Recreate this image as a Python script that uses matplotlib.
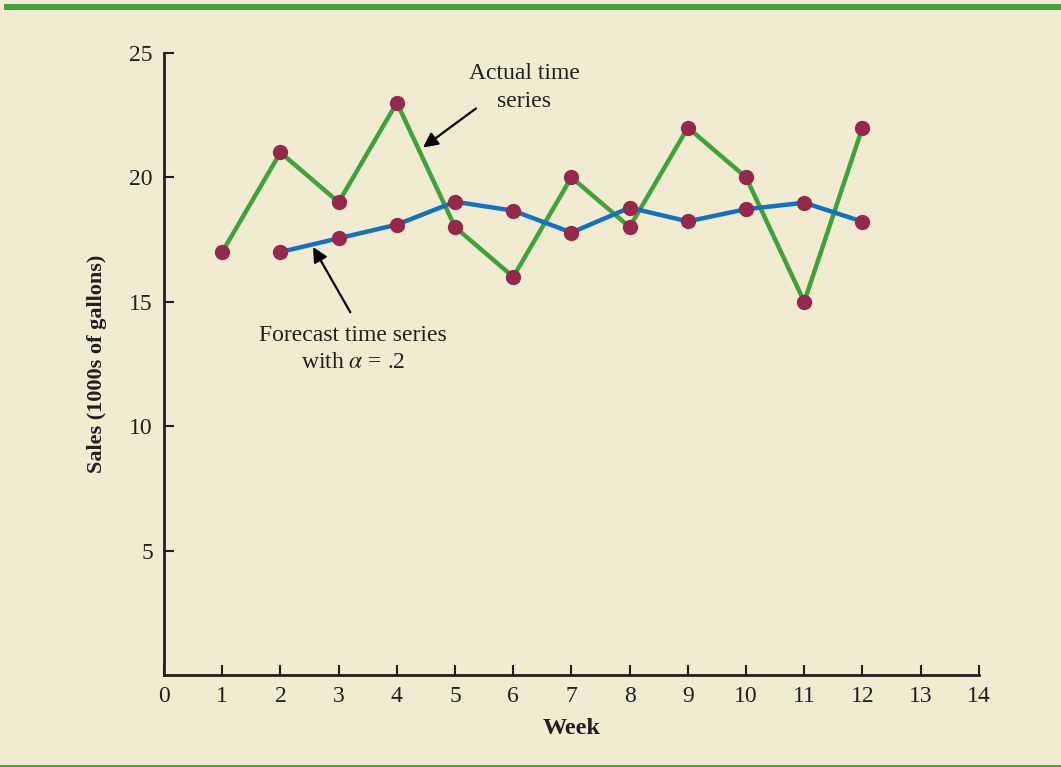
import numpy as np
import matplotlib.pyplot as plt

# weekly sales data (1000s of gallons)
weeks = [1, 2, 3, 4, 5, 6, 7, 8, 9, 10, 11, 12]
actual = [17, 21, 19, 23, 18, 16, 20, 18, 22, 20, 15, 22]
forecast_weeks = [2, 3, 4, 5, 6, 7, 8, 9, 10, 11, 12]
forecast = [17.0, 17.55, 18.1, 19.02, 18.66, 17.78, 18.78, 18.23, 18.72, 18.98, 18.22]

x_ticks = list(range(0, 15))
y_ticks = [5, 10, 15, 20, 25]

bg = '#f1ebd1'
dark = '#231f20'
green = '#3fa23b'
blue = '#1570bd'
dot = '#95284b'

plt.rcParams['font.family'] = ['Liberation Serif', 'DejaVu Serif']
plt.rcParams['mathtext.fontset'] = 'stix'

fig = plt.figure(figsize=(10.61, 7.67), dpi=100, facecolor=bg)
ax = fig.add_axes([0.1546, 0.1199, 0.768, 0.8111])
ax.set_facecolor(bg)

# top and bottom green rules
fig.add_artist(plt.Rectangle((0.004, 0.987), 0.996, 0.008, transform=fig.transFigure,
                             color='#40a33e', lw=0))
fig.add_artist(plt.Rectangle((0.0, 0.0), 1.0, 0.003, transform=fig.transFigure,
                             color='#40a33e', lw=0))

ax.plot(weeks, actual, color=green, lw=3.2, zorder=2)
ax.plot(forecast_weeks, forecast, color=blue, lw=3.2, zorder=2)
ax.plot(weeks, actual, 'o', color=dot, ms=10, zorder=3)
ax.plot(forecast_weeks, forecast, 'o', color=dot, ms=10, zorder=3)

ax.set_xlim(0, 14)
ax.set_ylim(0, 25)
ax.set_xticks(x_ticks)
ax.set_yticks(y_ticks)
ax.tick_params(direction='in', length=7, width=1.5, color=dark, labelsize=17,
               labelcolor=dark, pad=8)
for s in ['top', 'right']:
    ax.spines[s].set_visible(False)
for s in ['left', 'bottom']:
    ax.spines[s].set_color(dark)
    ax.spines[s].set_linewidth(2)

ax.set_xlabel('Week', fontsize=17.5, fontweight='bold', color=dark, labelpad=8)
ax.set_ylabel('Sales (1000s of gallons)', fontsize=16, fontweight='bold', color=dark, labelpad=16)

arrow = dict(arrowstyle='-|>', color='black', lw=1.6, mutation_scale=22,
             shrinkA=0, shrinkB=0)
ax.annotate('', xy=(4.45, 21.2), xytext=(5.36, 22.77), arrowprops=arrow)
ax.text(6.19, 23.6, 'Actual time\nseries', ha='center', va='center', fontsize=17,
        color=dark, linespacing=1.45)
ax.annotate('', xy=(2.56, 17.2), xytext=(3.2, 14.58), arrowprops=arrow)
ax.text(3.25, 13.1, 'Forecast time series\nwith $\\alpha$ = .2', ha='center', va='center',
        fontsize=17, color=dark, linespacing=1.4)

fig.savefig('out.png', dpi=100, facecolor=bg)
